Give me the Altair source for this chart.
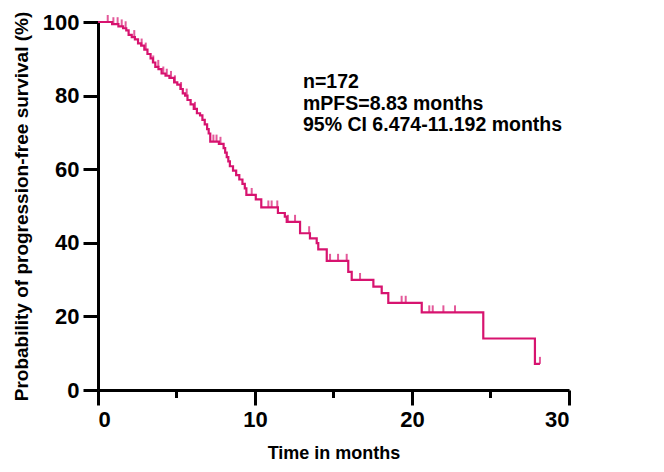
import altair as alt
import pandas as pd
import numpy as np

# Kaplan-Meier step curve (time in months, survival %)
step_times = [0.0, 0.9, 1.3, 1.6, 1.8, 1.95, 2.15, 2.35, 2.55, 2.75, 2.95, 3.15, 3.35, 3.5,
              3.65, 3.85, 4.05, 4.3, 4.55, 4.85, 5.05, 5.25, 5.4, 5.55, 5.7, 5.9, 6.1, 6.3,
              6.5, 6.65, 6.8, 6.95, 7.05, 7.15, 7.7, 8.0, 8.1, 8.2, 8.3, 8.4, 8.6, 8.8, 9.0,
              9.2, 9.35, 9.45, 10.05, 10.4, 11.46, 11.9, 12.02, 12.87, 13.5, 13.93, 14.03,
              14.57, 15.94, 16.16, 17.54, 18.07, 18.49, 20.62, 24.54, 27.83]
step_surv = [100.0, 99.4, 98.8, 98.3, 97.7, 96.5, 95.9, 95.3, 94.2, 93.6, 92.5, 91.3, 90.1, 89.0,
             87.8, 87.2, 86.0, 85.4, 84.8, 83.6, 83.0, 81.8, 80.6, 80.0, 78.8, 77.6, 76.4, 75.2,
             74.6, 73.4, 72.2, 70.9, 69.7, 67.5, 66.9, 65.7, 64.5, 63.3, 62.1, 60.8, 59.6, 58.4, 57.2,
             56.0, 54.8, 53.0, 51.8, 49.6, 48.1, 47.1, 45.7, 42.6, 41.2, 39.9, 38.2,
             35.1, 32.1, 29.9, 28.1, 26.3, 23.7, 21.1, 14.0, 7.1]
last_followup = 28.15

# Censoring marks (months)
censor_times = [0.62, 0.98, 1.25, 1.51, 1.76, 2.31, 2.78, 3.04, 3.52, 3.84, 4.16, 4.38, 4.65,
                4.9, 5.29, 5.65, 6.18, 7.35, 7.55, 7.8, 9.79, 10.85, 11.06, 11.42, 12.1, 12.55,
                13.45, 14.78, 15.29, 15.84, 16.69, 19.34, 19.6, 21.1, 21.32, 22.0, 22.74, 28.15]

x_ticks = [0, 10, 20, 30]
x_minor = [5, 15, 25]
y_ticks = [0, 20, 40, 60, 80, 100]
annot_lines = ["n=172", "mPFS=8.83 months", "95% CI 6.474-11.192 months"]

PINK = "#D7136F"
FONT = "Liberation Sans"
W, H = 471, 368

curve_df = pd.DataFrame({"t": step_times + [last_followup],
                         "S": step_surv + [step_surv[-1]]})
idx = np.searchsorted(np.array(step_times), np.array(censor_times), side="right") - 1
cens_df = pd.DataFrame({"t": censor_times, "S": [step_surv[i] for i in idx]})
minor_df = pd.DataFrame({"t": x_minor})

xscale = alt.Scale(domain=[0, 30], nice=False, zero=False)
yscale = alt.Scale(domain=[0, 100], nice=False, zero=False)

axis_common = dict(domainColor="black", domainWidth=3, tickColor="black", tickWidth=3,
                   tickSize=15, labelFont=FONT, labelFontSize=22, labelFontWeight="bold",
                   labelColor="black", titleFont=FONT, titleFontWeight="bold",
                   titleColor="black", grid=False, labelPadding=4)

line = alt.Chart(curve_df).mark_line(interpolate="step-after", color=PINK, strokeWidth=2.2).encode(
    x=alt.X("t:Q", scale=xscale,
            axis=alt.Axis(values=x_ticks, title="Time in months", titleFontSize=18,
                          titlePadding=14, **axis_common)),
    y=alt.Y("S:Q", scale=yscale,
            axis=alt.Axis(values=y_ticks, title="Probability of progression-free survival (%)",
                          titleFontSize=19, titlePadding=11, **axis_common)),
)

cens = alt.Chart(cens_df).mark_tick(orient="vertical", size=7, thickness=2, color=PINK,
                                    yOffset=-3.5).encode(
    x=alt.X("t:Q", scale=xscale), y=alt.Y("S:Q", scale=yscale))

minor = alt.Chart(minor_df).mark_rule(color="black", strokeWidth=3).encode(
    x=alt.X("t:Q", scale=xscale), y=alt.value(H), y2=alt.value(H + 8))

texts = [
    alt.Chart(pd.DataFrame({"s": [s]})).mark_text(
        align="left", baseline="alphabetic", font=FONT, fontSize=19.5, fontWeight="bold",
        color="black").encode(x=alt.value(205), y=alt.value(66 + 21.7 * i), text="s:N")
    for i, s in enumerate(annot_lines)
]

chart = alt.layer(line, cens, minor, *texts).properties(
    width=W, height=H,
    autosize=alt.AutoSizeParams(type="none"),
    padding={"left": 90, "top": 14, "right": 12, "bottom": 80},
).configure_view(stroke=None)

chart.save("out.html", embed_options={"renderer": "svg", "actions": False})
